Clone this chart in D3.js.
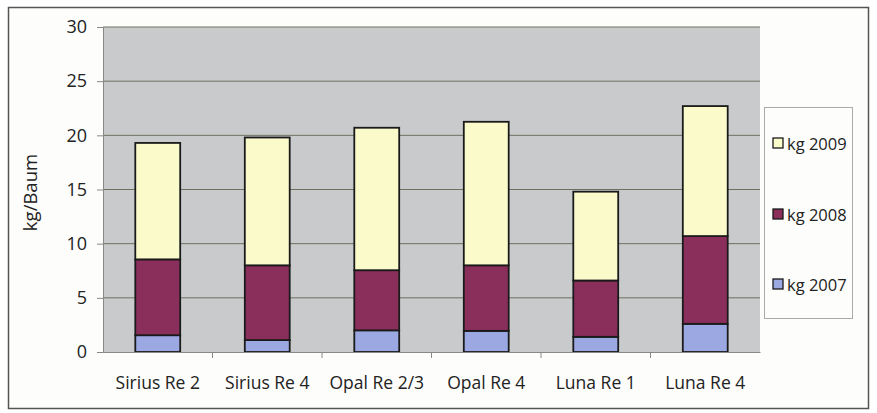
<!DOCTYPE html>
<html><head><meta charset="utf-8">
<script src="https://cdn.jsdelivr.net/npm/d3@7"></script>
<style>body{margin:0;background:#fff;}svg{display:block;font-family:"Open Sans",sans-serif;}</style>
</head><body><svg id="c" width="877" height="413"></svg>
<script>
const categories = ["Sirius Re 2","Sirius Re 4","Opal Re 2/3","Opal Re 4","Luna Re 1","Luna Re 4"];
const kg2007 = [1.55, 1.1, 2.0, 1.95, 1.4, 2.6];
const kg2008 = [7.0, 6.9, 5.55, 6.05, 5.2, 8.1];
const kg2009 = [10.75, 11.8, 13.15, 13.25, 8.2, 12.0];
const seriesNames = ["kg 2007","kg 2008","kg 2009"];
const seriesColors = ["#9ca8e2","#8a2f5c","#fafacb"];
const yTicks = [0,5,10,15,20,25,30];

const svg = d3.select("#c");
svg.append("rect").attr("x",8.5).attr("y",7.5).attr("width",860).attr("height",401)
  .attr("fill","#fdfdfb").attr("stroke","#555").attr("stroke-width",1.5);

const pL=103, pR=760, pT=27, pB=352;
const x = d3.scaleBand().domain(categories).range([pL,pR]).paddingInner(0.59).paddingOuter(0.295);
const y = d3.scaleLinear().domain([0,30]).range([pB,pT]);

svg.append("rect").attr("x",pL).attr("y",pT).attr("width",pR-pL).attr("height",pB-pT)
  .attr("fill","#c9cacc");

svg.append("g").selectAll("line").data(yTicks.filter(d=>d>0)).join("line")
  .attr("x1",pL).attr("x2",pR).attr("y1",d=>y(d)).attr("y2",d=>y(d))
  .attr("stroke","#6e7060").attr("stroke-width",1);

const rows = categories.map((c,i)=>({cat:c,"kg 2007":kg2007[i],"kg 2008":kg2008[i],"kg 2009":kg2009[i]}));
const stack = d3.stack().keys(seriesNames)(rows);
svg.append("g").selectAll("g").data(stack).join("g")
  .attr("fill",(d,i)=>seriesColors[i])
  .selectAll("rect").data(d=>d).join("rect")
  .attr("x",d=>x(d.data.cat)).attr("width",x.bandwidth())
  .attr("y",d=>y(d[1])).attr("height",d=>y(d[0])-y(d[1]))
  .attr("stroke","#1a1a1a").attr("stroke-width",1.8);

const yAxis = d3.axisLeft(y).tickValues(yTicks).tickSize(6).tickPadding(10);
const ya = svg.append("g").attr("transform",`translate(${pL},0)`).call(yAxis);
ya.select(".domain").attr("stroke","#888");
ya.selectAll(".tick line").attr("stroke","#888");
ya.selectAll("text").attr("font-size",18).attr("fill","#222").attr("font-family","Open Sans, sans-serif");

const xa = svg.append("g").attr("transform",`translate(0,${pB})`)
  .call(d3.axisBottom(x).tickSize(0).tickPadding(25));
xa.select(".domain").attr("stroke","#888");
xa.selectAll("text").attr("font-size",17.5).attr("fill","#222").attr("font-family","Open Sans, sans-serif");
svg.append("g").selectAll("line").data(d3.range(1,categories.length)).join("line")
  .attr("x1",d=>pL+d*(pR-pL)/categories.length).attr("x2",d=>pL+d*(pR-pL)/categories.length)
  .attr("y1",pB).attr("y2",pB+6).attr("stroke","#888");

svg.append("text").attr("transform",`translate(37,${(pT+pB)/2+3}) rotate(-90)`)
  .attr("text-anchor","middle").attr("font-size",18.5).attr("fill","#222").text("kg/Baum");

const lg = svg.append("g");
lg.append("rect").attr("x",764.5).attr("y",107.5).attr("width",88).attr("height",211)
  .attr("fill","#fdfdfb").attr("stroke","#aaa");
const legendOrder = [2,1,0];
const legendY = [144,215,285];
legendOrder.forEach((si,k)=>{
  lg.append("rect").attr("x",773).attr("y",legendY[k]-6).attr("width",10).attr("height",10)
    .attr("fill",seriesColors[si]).attr("stroke","#1a1a1a").attr("stroke-width",1.3);
  lg.append("text").attr("x",787).attr("y",legendY[k]+5.5).attr("font-size",16.5).attr("fill","#222")
    .text(seriesNames[si]);
});
</script></body></html>
